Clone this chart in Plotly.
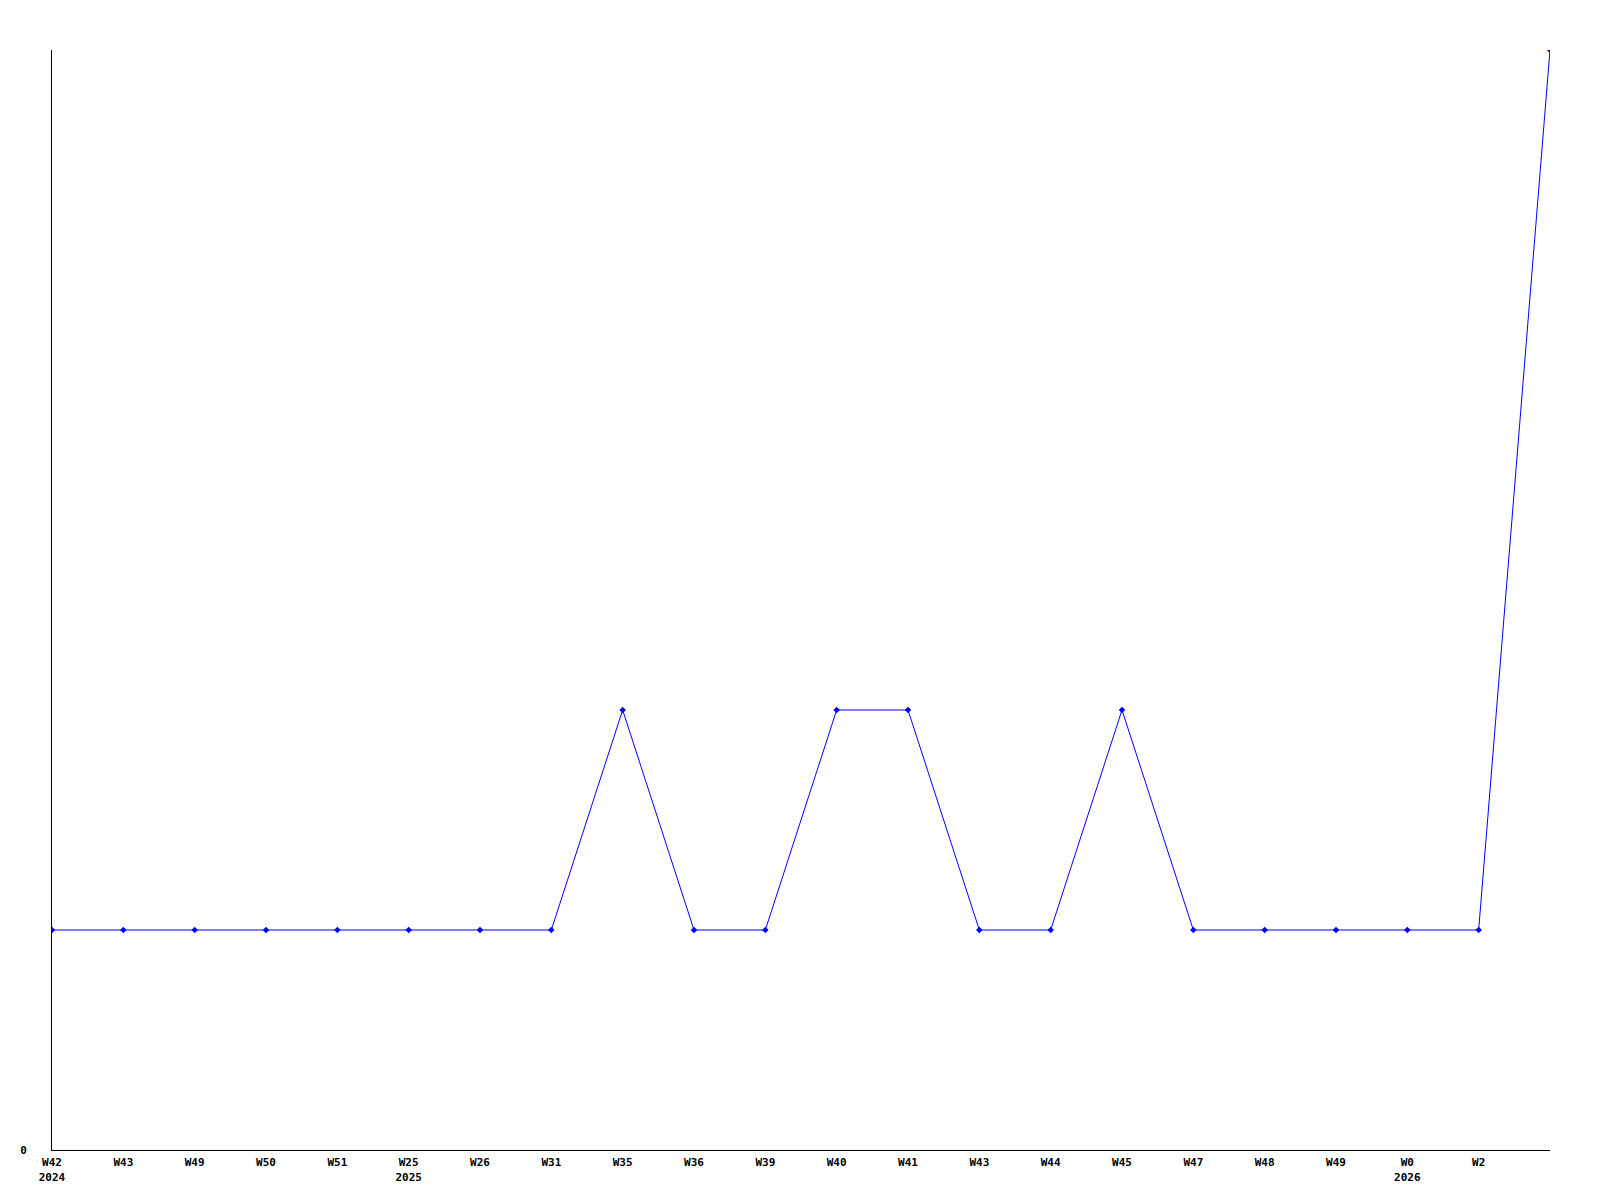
import plotly.graph_objects as go

weeks = ["W42", "W43", "W49", "W50", "W51", "W25", "W26", "W31", "W35", "W36", "W39",
         "W40", "W41", "W43", "W44", "W45", "W47", "W48", "W49", "W0", "W2", ""]
years = ["2024", "", "", "", "", "2025", "", "", "", "", "",
         "", "", "", "", "", "", "", "", "2026", "", ""]
values = [1, 1, 1, 1, 1, 1, 1, 1, 2, 1, 1, 2, 2, 1, 1, 2, 1, 1, 1, 1, 1, 5]

idx = list(range(len(values)))
ticktext = [w + ("<br>" + y if y else "") for w, y in zip(weeks, years)]

fig = go.Figure()
fig.add_trace(go.Scatter(
    x=idx, y=values, mode="lines+markers",
    line=dict(color="#0000ff", width=1),
    marker=dict(symbol="diamond", size=5, color="#0000ff"),
    showlegend=False,
))

font = dict(family="DejaVu Sans Mono", size=11, color="black", weight="bold")
fig.update_layout(
    width=1600, height=1200,
    margin=dict(l=42, r=58, t=42, b=58),
    plot_bgcolor="white", paper_bgcolor="white",
    font=font,
)
fig.update_xaxes(
    range=[0, 21], tickmode="array", tickvals=idx, ticktext=ticktext,
    showgrid=False, zeroline=False, showline=True, linecolor="black", linewidth=1,
    ticks="", tickfont=font, ticklabelstandoff=2,
)
fig.update_yaxes(
    range=[0, 5], tickmode="array", tickvals=[0], ticktext=["0"],
    showgrid=False, zeroline=False, showline=True, linecolor="black", linewidth=1,
    ticks="", tickfont=font, ticklabelstandoff=22,
)
fig.write_html("out.html")
